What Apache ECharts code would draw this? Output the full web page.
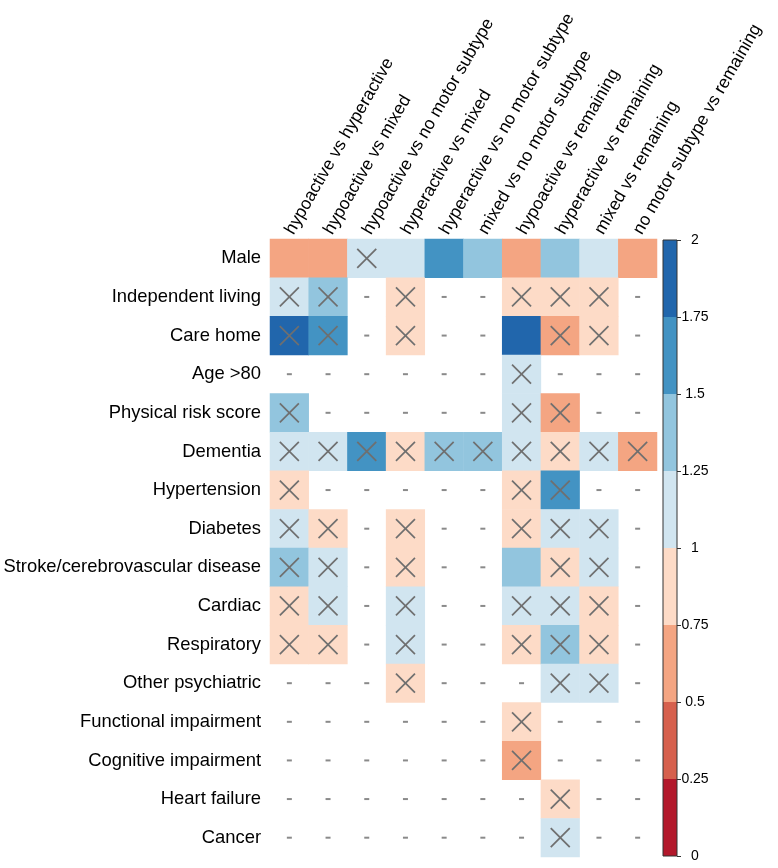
<!DOCTYPE html>
<html>
<head>
<meta charset="utf-8">
<script src="https://cdn.jsdelivr.net/npm/echarts@6/dist/echarts.min.js"></script>
<style>
  html, body { margin: 0; padding: 0; background: #fff; }
  #main { width: 778px; height: 868px; }
</style>
</head>
<body>
<div id="main"></div>
<script>
var comparisons = [
  'hypoactive vs hyperactive', 'hypoactive vs mixed', 'hypoactive vs no motor subtype',
  'hyperactive vs mixed', 'hyperactive vs no motor subtype', 'mixed vs no motor subtype',
  'hypoactive vs remaining', 'hyperactive vs remaining', 'mixed vs remaining',
  'no motor subtype vs remaining'
];
var factors = [
  'Male', 'Independent living', 'Care home', 'Age >80', 'Physical risk score', 'Dementia',
  'Hypertension', 'Diabetes', 'Stroke/cerebrovascular disease', 'Cardiac', 'Respiratory',
  'Other psychiatric', 'Functional impairment', 'Cognitive impairment', 'Heart failure', 'Cancer'
];

// odds ratio per factor (row) and comparison (column), null = not in model ("-")
var ratios = [
  [0.65, 0.65, 1.1, 1.15, 1.6, 1.35, 0.65, 1.3, 1.1, 0.62],
  [1.1, 1.35, null, 0.9, null, null, 0.9, 0.9, 0.9, null],
  [1.85, 1.6, null, 0.85, null, null, 1.85, 0.65, 0.85, null],
  [null, null, null, null, null, null, 1.05, null, null, null],
  [1.35, null, null, null, null, null, 1.1, 0.6, null, null],
  [1.1, 1.1, 1.6, 0.9, 1.3, 1.3, 1.1, 0.9, 1.1, 0.6],
  [0.9, null, null, null, null, null, 0.9, 1.6, null, null],
  [1.1, 0.9, null, 0.9, null, null, 0.9, 1.1, 1.1, null],
  [1.35, 1.1, null, 0.9, null, null, 1.3, 0.9, 1.1, null],
  [0.9, 1.1, null, 1.1, null, null, 1.1, 1.1, 0.9, null],
  [0.9, 0.9, null, 1.1, null, null, 0.9, 1.35, 0.9, null],
  [null, null, null, 0.85, null, null, null, 1.1, 1.1, null],
  [null, null, null, null, null, null, 0.85, null, null, null],
  [null, null, null, null, null, null, 0.6, null, null, null],
  [null, null, null, null, null, null, null, 0.9, null, null],
  [null, null, null, null, null, null, null, 1.1, null, null]
];

// 1 = crossed out (not significant)
var crossed = [
  [0, 0, 1, 0, 0, 0, 0, 0, 0, 0],
  [1, 1, 0, 1, 0, 0, 1, 1, 1, 0],
  [1, 1, 0, 1, 0, 0, 0, 1, 1, 0],
  [0, 0, 0, 0, 0, 0, 1, 0, 0, 0],
  [1, 0, 0, 0, 0, 0, 1, 1, 0, 0],
  [1, 1, 1, 1, 1, 1, 1, 1, 1, 1],
  [1, 0, 0, 0, 0, 0, 1, 1, 0, 0],
  [1, 1, 0, 1, 0, 0, 1, 1, 1, 0],
  [1, 1, 0, 1, 0, 0, 0, 1, 1, 0],
  [1, 1, 0, 1, 0, 0, 1, 1, 1, 0],
  [1, 1, 0, 1, 0, 0, 1, 1, 1, 0],
  [0, 0, 0, 1, 0, 0, 0, 1, 1, 0],
  [0, 0, 0, 0, 0, 0, 1, 0, 0, 0],
  [0, 0, 0, 0, 0, 0, 1, 0, 0, 0],
  [0, 0, 0, 0, 0, 0, 0, 1, 0, 0],
  [0, 0, 0, 0, 0, 0, 0, 1, 0, 0]
];

var breaks = [0, 0.25, 0.5, 0.75, 1, 1.25, 1.5, 1.75, 2];
var palette = ['#b2182b', '#d6604d', '#f4a582', '#fddbc7', '#d1e5f0', '#92c5de', '#4393c3', '#2166ac'];

var FONT = '"Liberation Sans", Arial, sans-serif';

var cells = [], marks = [];
for (var r = 0; r < factors.length; r++) {
  for (var c = 0; c < comparisons.length; c++) {
    var v = ratios[r][c];
    if (v === null) {
      marks.push([c, r, 0]);
    } else {
      cells.push([c, r, v]);
      if (crossed[r][c]) marks.push([c, r, 1]);
    }
  }
}

var pieces = [], bands = [];
for (var i = 0; i < palette.length; i++) {
  pieces.push({ gte: breaks[i], lt: breaks[i + 1], color: palette[i] });
  bands.push([0, breaks[i], breaks[i + 1], i]);
}

function renderMark(params, api) {
  var p = api.coord([api.value(0), api.value(1)]);
  if (api.value(2) === 1) {
    var h = 9.5;
    var st = { stroke: '#6f6f6f', lineWidth: 1.7 };
    return {
      type: 'group',
      children: [
        { type: 'line', shape: { x1: p[0] - h, y1: p[1] - h, x2: p[0] + h, y2: p[1] + h }, style: st },
        { type: 'line', shape: { x1: p[0] - h, y1: p[1] + h, x2: p[0] + h, y2: p[1] - h }, style: st }
      ]
    };
  }
  // dash for missing
  return { type: 'rect', shape: { x: p[0] - 2.5, y: p[1] - 1, width: 5, height: 2 }, style: { fill: '#8a8a8a' } };
}

function renderBand(params, api) {
  var lo = api.coord([0, api.value(1)]);
  var hi = api.coord([0, api.value(2)]);
  var w = api.size([1, 0])[0];
  return {
    type: 'rect',
    shape: { x: lo[0] - w / 2, y: hi[1], width: w, height: lo[1] - hi[1] },
    style: { fill: palette[api.value(3)] }
  };
}

var chart = echarts.init(document.getElementById('main'));
chart.setOption({
  backgroundColor: '#fff',
  animation: false,
  grid: [
    { left: 270, top: 239, width: 387, height: 618 },
    { left: 663, top: 240, width: 14, height: 616, show: true, z: 10,
      backgroundColor: 'transparent', borderColor: '#333', borderWidth: 1 }
  ],
  xAxis: [
    {
      type: 'category', data: comparisons, position: 'top', gridIndex: 0,
      axisLine: { show: false }, axisTick: { show: false }, splitLine: { show: false },
      axisLabel: { interval: 0, rotate: -60, margin: 6, fontSize: 17.5, color: '#000', fontFamily: FONT }
    },
    {
      type: 'category', data: [''], gridIndex: 1,
      axisLine: { show: false }, axisTick: { show: false }, axisLabel: { show: false }
    }
  ],
  yAxis: [
    {
      type: 'category', data: factors, inverse: true, gridIndex: 0,
      axisLine: { show: false }, axisTick: { show: false }, splitLine: { show: false },
      axisLabel: { margin: 9, fontSize: 18.4, color: '#000', fontFamily: FONT }
    },
    {
      type: 'value', min: 0, max: 2, interval: 0.25, position: 'right', gridIndex: 1,
      axisLine: { show: false }, splitLine: { show: false },
      axisTick: { show: true, length: 4, lineStyle: { color: '#333' } },
      axisLabel: { margin: 18, align: 'center', fontSize: 14, color: '#000', fontFamily: FONT }
    }
  ],
  visualMap: {
    type: 'piecewise', show: false, seriesIndex: 0, dimension: 2, pieces: pieces
  },
  series: [
    {
      type: 'heatmap', data: cells, xAxisIndex: 0, yAxisIndex: 0,
      itemStyle: { borderWidth: 0 }, emphasis: { disabled: true }
    },
    {
      type: 'custom', data: marks, xAxisIndex: 0, yAxisIndex: 0, z: 5,
      renderItem: renderMark
    },
    {
      type: 'custom', data: bands, xAxisIndex: 1, yAxisIndex: 1,
      renderItem: renderBand
    }
  ]
});
</script>
</body>
</html>
